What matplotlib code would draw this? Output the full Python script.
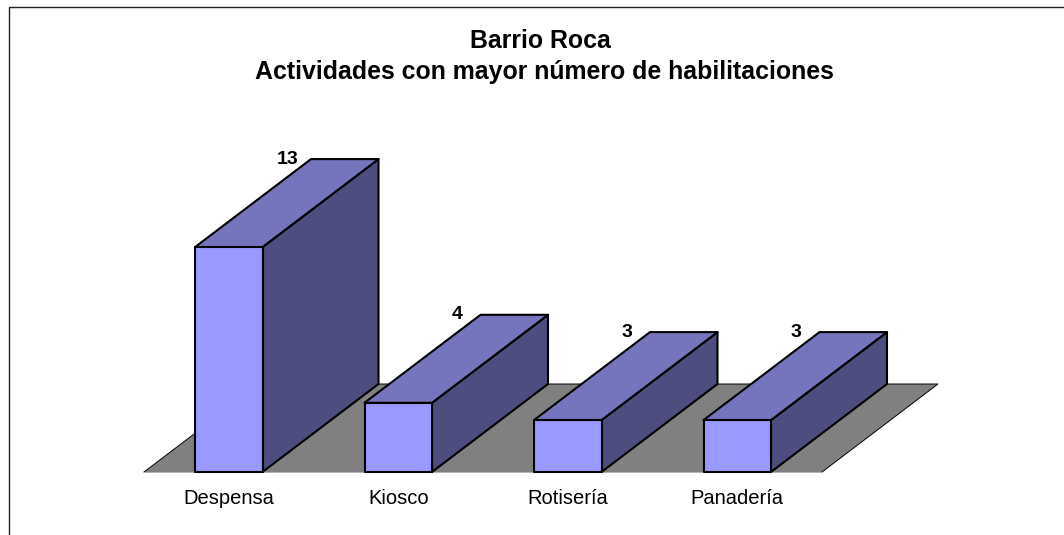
import matplotlib
matplotlib.use('Agg')
import matplotlib.pyplot as plt
from matplotlib.patches import Polygon

categories = ['Despensa', 'Kiosco', 'Rotisería', 'Panadería']
values = [13, 4, 3, 3]

W, H = 1064, 535
plt.rcParams['font.family'] = ['Liberation Sans', 'DejaVu Sans']

fig = plt.figure(figsize=(W / 100, H / 100), dpi=100)

# plot area in pixels: floor front edge 144-822, baseline at y=472
left, right, base, top = 144, 822, 472, 126
ax = fig.add_axes([left / W, 1 - base / H, (right - left) / W, (base - top) / H])
ax.set_xlim(-0.5, len(categories) - 0.5)
ax.set_ylim(0, (base - top) / 17.3)
ax.axis('off')

# depth of the fake 3d, in data units
depth_x = 116 / 169.5
depth_y = 88 / 17.3
bar_w = 67.5 / 169.5


def box(pts, color, lw=1.5, ec='black', z=2):
    ax.add_patch(Polygon(pts, closed=True, facecolor=color, edgecolor=ec, linewidth=lw,
                         joinstyle='round', clip_on=False, zorder=z))


# floor
x0, x1 = -0.5, len(categories) - 0.5
box([(x0, 0), (x1, 0), (x1 + depth_x, depth_y), (x0 + depth_x, depth_y)], '#808080', lw=0, ec='none', z=1)
ax.plot([x1, x1 + depth_x, x0 + depth_x, x0], [0, depth_y, depth_y, 0],
        color='black', lw=0.7, zorder=1, clip_on=False)
ax.plot([x0, x1], [0, 0], color='#b0b0b0', lw=0.7, zorder=1, clip_on=False)

for i, v in enumerate(values):
    a, b = i - bar_w / 2, i + bar_w / 2
    z = 2 + (len(values) - i) * 0.1
    # side, top, front
    box([(b, 0), (b + depth_x, depth_y), (b + depth_x, v + depth_y), (b, v)], '#4D4D80', z=z)
    box([(a, v), (b, v), (b + depth_x, v + depth_y), (a + depth_x, v + depth_y)], '#7575BD', z=z)
    box([(a, 0), (b, 0), (b, v), (a, v)], '#9999FF', z=z)
    ax.text(i + depth_x / 2 + 0.006, v + depth_y, str(v), ha='center', va='center', fontsize=14,
            fontweight='bold', color='black', zorder=6)
    ax.text(i, -1.55, categories[i], ha='center', va='center', fontsize=14.5, color='black', clip_on=False)

fig.text(540 / W, 1 - 41 / H, 'Barrio Roca', ha='center', va='center', fontsize=17.9, fontweight='bold')
fig.text(544 / W, 1 - 72 / H, 'Actividades con mayor número de habilitaciones', ha='center', va='center',
         fontsize=17.9, fontweight='bold')

# chart frame, only left and top are visible
fig.add_artist(plt.Line2D([9 / W, 9 / W, 1], [0, 1 - 6.5 / H, 1 - 6.5 / H], color='#222222', lw=1))

fig.savefig('out.png', dpi=100)
